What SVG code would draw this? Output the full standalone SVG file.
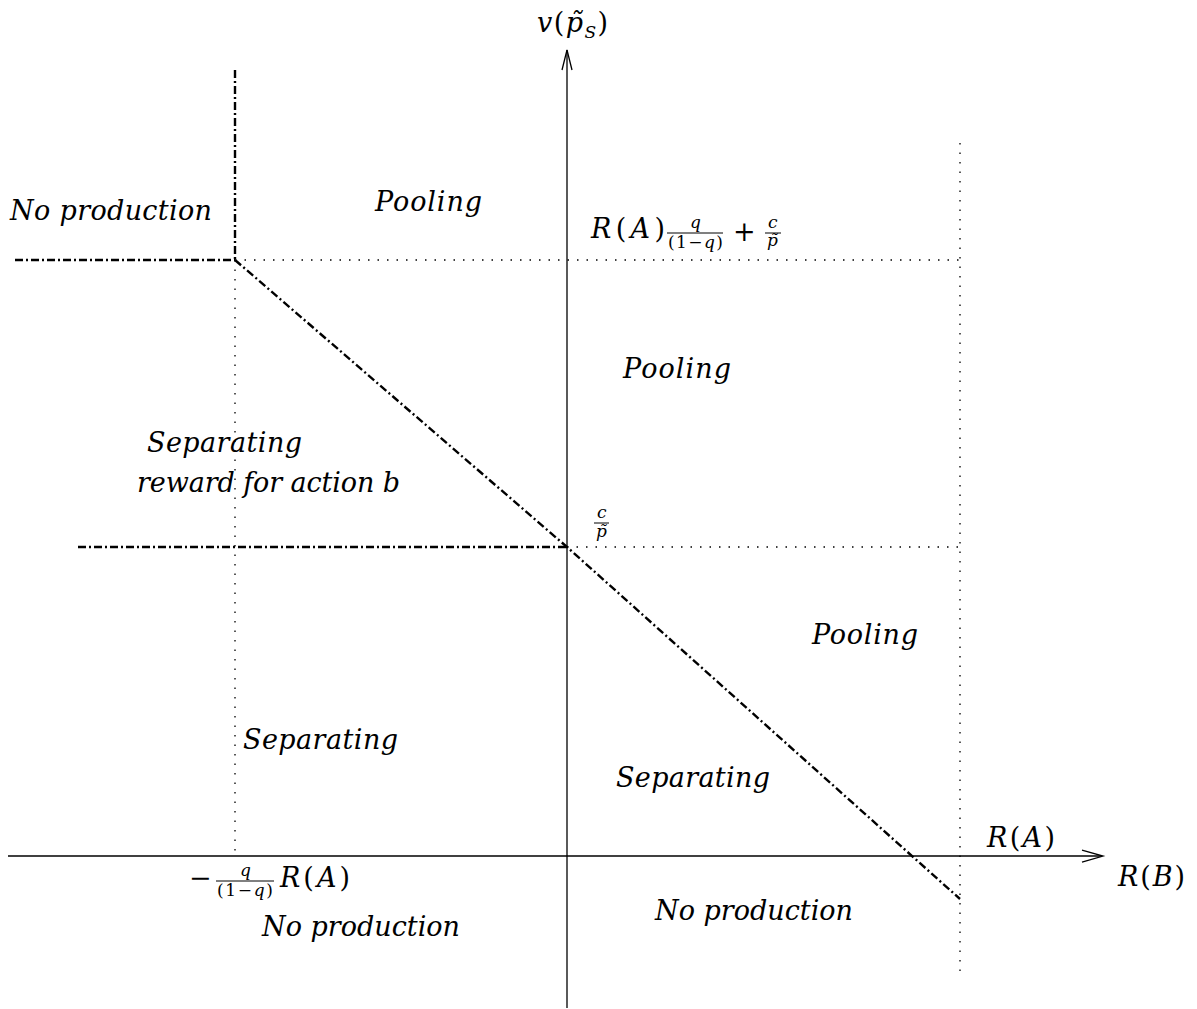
<svg xmlns="http://www.w3.org/2000/svg" width="1197" height="1009" viewBox="0 0 1197 1009">
<style>
text{font-family:'DejaVu Serif','Liberation Serif',serif;fill:#000}
.t{font-style:italic;font-size:27px}
.r{font-style:normal;font-size:27px}
.s{font-style:italic;font-size:17px}
.sr{font-style:normal;font-size:17px}
.n{font-style:normal}
.axis{stroke:#000;stroke-width:1.3;fill:none}
.dd{stroke:#000;stroke-width:2.4;fill:none;stroke-dasharray:8 3 2 3}
.dot{stroke:#000;stroke-width:1.3;fill:none;stroke-dasharray:1.5 8}
.bar{stroke:#000;stroke-width:1}
</style>
<rect width="1197" height="1009" fill="#fff"/>
<g id="connectors">
  <line class="axis" x1="567" y1="1008" x2="567" y2="50"/>
  <polyline class="axis" points="562,70 567,50 572,70"/>
  <line class="axis" x1="8" y1="856" x2="1102" y2="856"/>
  <polyline class="axis" points="1082,850 1103,856 1082,862"/>
  <line class="dot" x1="235" y1="260" x2="235" y2="852"/>
  <line class="dot" x1="235" y1="260" x2="960" y2="260"/>
  <line class="dot" x1="567" y1="547" x2="960" y2="547"/>
  <line class="dot" x1="960" y1="143" x2="960" y2="973"/>
  <line class="dd" x1="235" y1="70" x2="235" y2="260"/>
  <line class="dd" x1="15" y1="260" x2="235" y2="260"/>
  <line class="dd" x1="78" y1="547" x2="567" y2="547"/>
  <polyline class="dd" points="235,260 567,547 960,899"/>
</g>
<g id="label-v">
  <text class="t" x="537" y="32" textLength="71">v<tspan class="n">(</tspan>p&#x303;<tspan class="s" dy="6">S</tspan><tspan class="n" dy="-6">)</tspan></text>
</g>
<g id="label-top-threshold">
  <text class="t" x="591" y="238" textLength="74">R<tspan class="n">(</tspan>A<tspan class="n">)</tspan></text>
  <text class="s" x="690" y="228">q</text>
  <line class="bar" x1="667" y1="233" x2="723" y2="233"/>
  <text class="sr" x="668" y="248" textLength="55">(1−<tspan class="s">q</tspan>)</text>
  <text class="r" x="733" y="241">+</text>
  <text class="s" x="768" y="228">c</text>
  <line class="bar" x1="765" y1="233" x2="781" y2="233"/>
  <text class="s" x="767" y="246">p&#x303;</text>
</g>
<g id="label-mid-threshold">
  <text class="s" x="597" y="518">c</text>
  <line class="bar" x1="594" y1="523" x2="609" y2="523"/>
  <text class="s" x="596" y="537">p&#x303;</text>
</g>
<g id="label-neg">
  <text class="r" x="189" y="887">−</text>
  <text class="s" x="240" y="876">q</text>
  <line class="bar" x1="216" y1="881" x2="274" y2="881"/>
  <text class="sr" x="217" y="896" textLength="56">(1−<tspan class="s">q</tspan>)</text>
  <text class="t" x="280" y="887" textLength="70">R<tspan class="n">(</tspan>A<tspan class="n">)</tspan></text>
</g>
<g id="label-RA">
  <text class="t" x="987" y="847" textLength="68">R<tspan class="n">(</tspan>A<tspan class="n">)</tspan></text>
</g>
<g id="label-RB">
  <text class="t" x="1118" y="886" textLength="67">R<tspan class="n">(</tspan>B<tspan class="n">)</tspan></text>
</g>
<g id="region-noprod-tl"><text class="t" x="10" y="220" textLength="202" lengthAdjust="spacing">No production</text></g>
<g id="region-pool-top"><text class="t" x="375" y="211" textLength="107" lengthAdjust="spacing">Pooling</text></g>
<g id="region-pool-mid"><text class="t" x="623" y="378" textLength="108" lengthAdjust="spacing">Pooling</text></g>
<g id="region-sep-reward">
  <text class="t" x="147" y="452" textLength="155" lengthAdjust="spacing">Separating</text>
  <text class="t" x="137" y="492" textLength="263" lengthAdjust="spacing">reward for action b</text>
</g>
<g id="region-pool-right"><text class="t" x="812" y="644" textLength="106" lengthAdjust="spacing">Pooling</text></g>
<g id="region-sep-left"><text class="t" x="243" y="749" textLength="155" lengthAdjust="spacing">Separating</text></g>
<g id="region-sep-right"><text class="t" x="616" y="787" textLength="154" lengthAdjust="spacing">Separating</text></g>
<g id="region-noprod-bl"><text class="t" x="262" y="936" textLength="198" lengthAdjust="spacing">No production</text></g>
<g id="region-noprod-br"><text class="t" x="655" y="920" textLength="198" lengthAdjust="spacing">No production</text></g>
</svg>
